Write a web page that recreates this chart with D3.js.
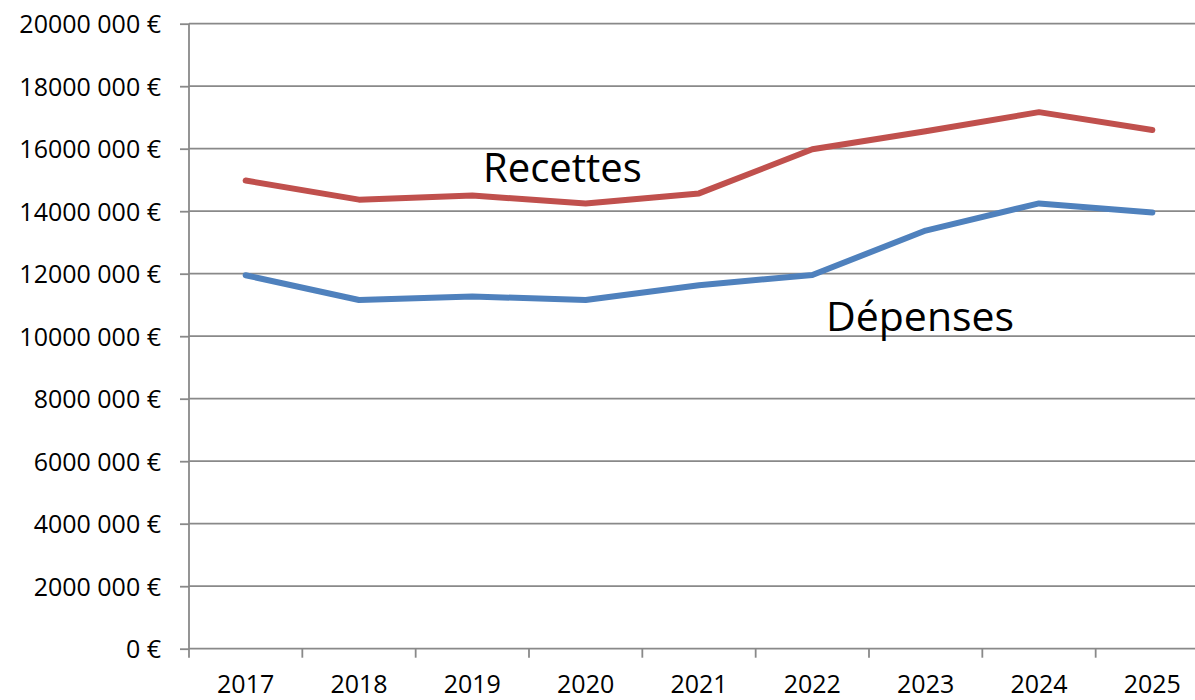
<!DOCTYPE html>
<html>
<head>
<meta charset="utf-8">
<script src="https://cdn.jsdelivr.net/npm/d3@7"></script>
<style>
  body { margin: 0; background: #fff; }
  svg { display: block; font-family: "Open Sans", sans-serif; }
</style>
</head>
<body>
<svg width="1195" height="700"></svg>
<script>
var years = ["2017", "2018", "2019", "2020", "2021", "2022", "2023", "2024", "2025"];
var recettes = [14980000, 14370000, 14500000, 14250000, 14570000, 15980000, 16560000, 17170000, 16600000];
var depenses = [11950000, 11160000, 11270000, 11160000, 11630000, 11960000, 13380000, 14250000, 13960000];
var yTicks = [0, 2000000, 4000000, 6000000, 8000000, 10000000, 12000000, 14000000, 16000000, 18000000, 20000000];

var svg = d3.select("svg");
var plotLeft = 189, plotRight = 1209, plotTop = 23.7, plotBottom = 648.7;

var x = d3.scaleBand().domain(years).range([plotLeft, plotRight]);
var y = d3.scaleLinear().domain([0, 20000000]).range([plotBottom, plotTop]);

var axisColor = "#898989";

var fmt = function(v) {
    if (v < 1000) return v + " €";
    var rest = String(v % 1000).padStart(3, "0");
    return Math.floor(v / 1000) + " " + rest + " €";
};

// horizontal gridlines
svg.append("g")
    .selectAll("line")
    .data(yTicks)
    .enter().append("line")
        .attr("x1", plotLeft)
        .attr("x2", plotRight)
        .attr("y1", function(d) { return y(d); })
        .attr("y2", function(d) { return y(d); })
        .attr("stroke", axisColor)
        .attr("stroke-width", 1.8);

// y axis
var gy = svg.append("g")
    .attr("transform", "translate(" + plotLeft + ",0)")
    .call(d3.axisLeft(y).tickValues(yTicks).tickSize(9).tickPadding(19).tickFormat(fmt));
gy.select(".domain").remove();
gy.selectAll(".tick line").attr("stroke", axisColor).attr("stroke-width", 1.8);
gy.selectAll(".tick text")
    .attr("fill", "#000")
    .attr("font-size", "25px")
    .attr("font-family", "Open Sans, sans-serif")
    .attr("dy", "0.36em");

svg.append("line")
    .attr("x1", plotLeft).attr("x2", plotLeft)
    .attr("y1", plotTop).attr("y2", plotBottom + 9)
    .attr("stroke", axisColor)
    .attr("stroke-width", 1.8);

// x axis: ticks between categories, labels centred
var boundaries = years.map(function(d) { return x(d); }).concat([x.range()[1]]);
svg.append("g")
    .selectAll("line")
    .data(boundaries.slice(1))
    .enter().append("line")
        .attr("x1", function(d) { return d; })
        .attr("x2", function(d) { return d; })
        .attr("y1", plotBottom)
        .attr("y2", plotBottom + 9)
        .attr("stroke", axisColor)
        .attr("stroke-width", 1.8);

var gx = svg.append("g")
    .attr("transform", "translate(0," + plotBottom + ")")
    .call(d3.axisBottom(x).tickSize(0).tickPadding(27));
gx.select(".domain").remove();
gx.selectAll(".tick text")
    .attr("fill", "#000")
    .attr("font-size", "25px")
    .attr("font-family", "Open Sans, sans-serif");

// lines
var line = function(values) {
    return d3.line()
        .x(function(d, i) { return x(years[i]) + x.bandwidth() / 2; })
        .y(function(d) { return y(d); })(values);
};

svg.append("path")
    .attr("d", line(recettes))
    .attr("fill", "none")
    .attr("stroke", "#C0504D")
    .attr("stroke-width", 6)
    .attr("stroke-linejoin", "round")
    .attr("stroke-linecap", "round");

svg.append("path")
    .attr("d", line(depenses))
    .attr("fill", "none")
    .attr("stroke", "#4F81BD")
    .attr("stroke-width", 6)
    .attr("stroke-linejoin", "round")
    .attr("stroke-linecap", "round");

// series labels
svg.append("text")
    .attr("x", 483)
    .attr("y", 182)
    .attr("font-size", "40px")
    .attr("fill", "#000")
    .text("Recettes");

svg.append("text")
    .attr("x", 826)
    .attr("y", 331)
    .attr("font-size", "41px")
    .attr("fill", "#000")
    .text("Dépenses");
</script>
</body>
</html>
